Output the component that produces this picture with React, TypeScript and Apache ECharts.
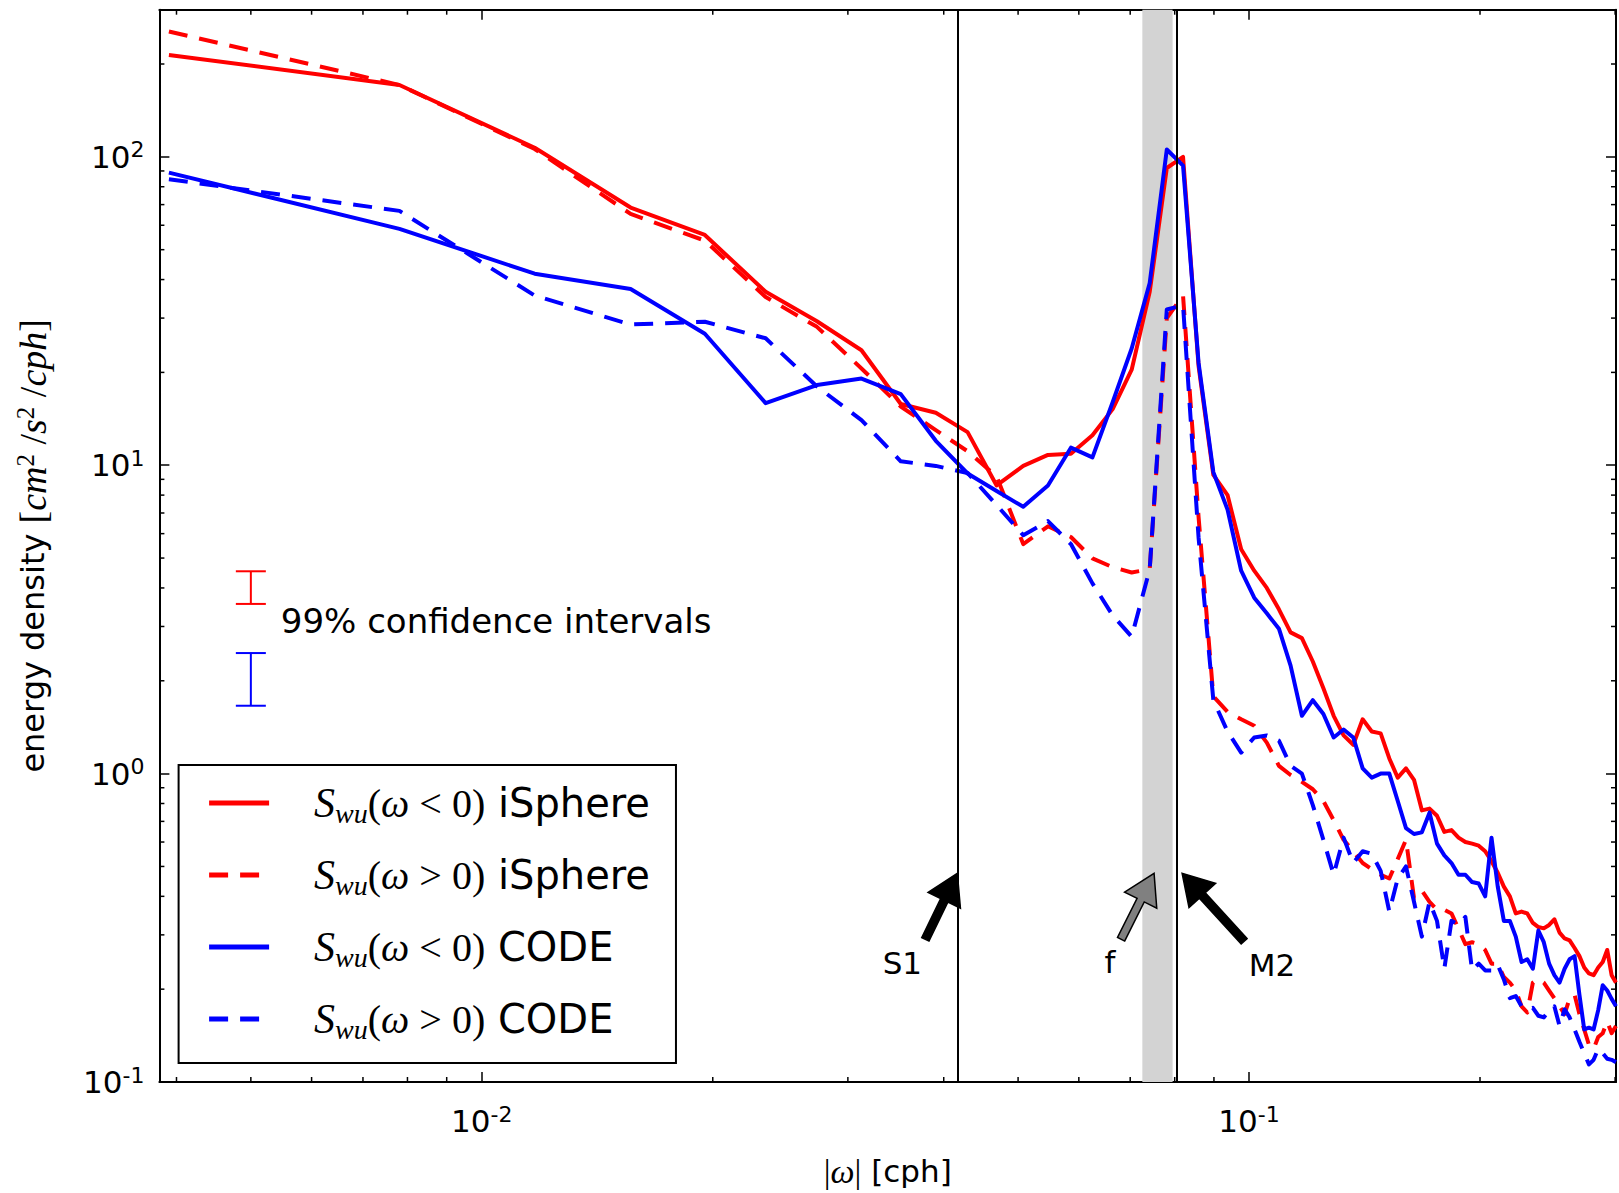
import React, { useEffect, useRef } from "react";
import * as echarts from "echarts";

// ---------------- data ----------------
const freq = [
  0.00391, 0.00781, 0.01172, 0.01563, 0.01953, 0.02344, 0.02734, 0.03125, 0.03516, 0.03906,
  0.04297, 0.04688, 0.05078, 0.05469, 0.05859, 0.0625, 0.06641, 0.07031, 0.07422, 0.07813,
  0.08203, 0.08594, 0.08984, 0.09375, 0.09766, 0.10156, 0.10547, 0.10938, 0.11328, 0.11719,
  0.12109, 0.125, 0.12891, 0.13281, 0.13672, 0.14063, 0.14453, 0.14844, 0.15234, 0.15625,
  0.16016, 0.16406, 0.16797, 0.17188, 0.17578, 0.17969, 0.18359, 0.1875, 0.19141, 0.19531,
  0.19922, 0.20313, 0.20703, 0.21094, 0.21484, 0.21875, 0.22266, 0.22656, 0.23047, 0.23438,
  0.23828, 0.24219, 0.24609, 0.25, 0.25391, 0.25781, 0.26172, 0.26563, 0.26953, 0.27344,
  0.27734, 0.28125, 0.28516, 0.28906, 0.29297, 0.29688, 0.30078,
];

const iSphereNeg = [
  214, 171, 107, 68.5, 55.8, 36.5, 29.3, 23.6, 15.8, 14.8,
  12.8, 8.6, 9.95, 10.8, 10.9, 12.5, 15.2, 20.4, 36.5, 92,
  100, 21, 9.3, 8.0, 5.34, 4.55, 4.0, 3.41, 2.87, 2.75,
  2.31, 1.89, 1.54, 1.33, 1.24, 1.5, 1.37, 1.35, 1.12, 0.97,
  1.04, 0.955, 0.76, 0.77, 0.73, 0.647, 0.656, 0.62, 0.6, 0.593,
  0.584, 0.56, 0.52, 0.477, 0.43, 0.4, 0.352, 0.357, 0.352, 0.328,
  0.318, 0.315, 0.323, 0.337, 0.305, 0.292, 0.288, 0.272, 0.256, 0.235,
  0.225, 0.222, 0.235, 0.245, 0.268, 0.222, 0.21,
];

const iSpherePos = [
  255, 171, 106, 65.3, 53.5, 35.1, 28.1, 20.6, 15.5, 13.0,
  11.1, 9.2, 5.55, 6.34, 5.85, 4.99, 4.67, 4.49, 4.6, 30,
  35.5, 6.8, 1.78, 1.585, 1.5, 1.43, 1.26, 1.06, 0.99, 0.94,
  0.89, 0.815, 0.706, 0.61, 0.56, 0.513, 0.49, 0.47, 0.457, 0.528,
  0.61, 0.395, 0.418, 0.384, 0.362, 0.362, 0.352, 0.314, 0.28, 0.284,
  0.28, 0.268, 0.242, 0.242, 0.219, 0.21, 0.198, 0.176, 0.168, 0.21,
  0.216, 0.21, 0.198, 0.187, 0.176, 0.166, 0.187, 0.192, 0.166, 0.148,
  0.132, 0.128, 0.14, 0.144, 0.157, 0.144, 0.152,
];

const codeNeg = [
  88.9, 58.4, 41.8, 37.3, 26.7, 15.9, 18.2, 19.1, 17.0, 12.0,
  9.4, 8.25, 7.33, 8.6, 11.4, 10.6, 16.0, 23.9, 39, 105.6,
  93.7, 21.5, 9.5, 7.18, 4.55, 3.72, 3.31, 2.95, 2.24, 1.54,
  1.73, 1.56, 1.31, 1.39, 1.31, 1.04, 0.97, 1.0, 1.0, 0.815,
  0.666, 0.637, 0.645, 0.747, 0.593, 0.543, 0.513, 0.47, 0.47, 0.445,
  0.44, 0.4, 0.62, 0.43, 0.333, 0.333, 0.296, 0.245, 0.25, 0.233,
  0.31, 0.284, 0.242, 0.222, 0.21, 0.233, 0.25, 0.256, 0.192, 0.148,
  0.15, 0.148, 0.171, 0.206, 0.198, 0.186, 0.176,
];

const codePos = [
  84.6, 66.8, 35.5, 28.6, 29.2, 25.8, 18.0, 14.0, 10.3, 9.95,
  9.44, 7.43, 5.93, 6.59, 5.55, 4.14, 3.26, 2.78, 4.6, 32,
  33, 5.83, 1.73, 1.37, 1.17, 1.31, 1.33, 1.28, 1.06, 1.0,
  0.79, 0.61, 0.47, 0.62, 0.513, 0.56, 0.55, 0.484, 0.357, 0.457,
  0.5, 0.384, 0.296, 0.384, 0.333, 0.233, 0.333, 0.324, 0.343, 0.23,
  0.242, 0.23, 0.23, 0.24, 0.215, 0.187, 0.19, 0.176, 0.172, 0.174,
  0.164, 0.162, 0.17, 0.176, 0.152, 0.172, 0.162, 0.148, 0.135, 0.124,
  0.114, 0.118, 0.128, 0.124, 0.119, 0.118, 0.116,
];

const seriesNames = ["Swu(ω<0) iSphere", "Swu(ω>0) iSphere", "Swu(ω<0) CODE", "Swu(ω>0) CODE"];
const seriesValues = [iSphereNeg, iSpherePos, codeNeg, codePos];
const seriesColors = ["#ff0000", "#ff0000", "#0000ff", "#0000ff"];
const seriesDashed = [false, true, false, true];
const legendSign = ["<", ">", "<", ">"];
const legendModel = ["iSphere", "iSphere", "CODE", "CODE"];

const xRange = [0.0038, 0.3008];
const yRange = [0.1, 300];

const S1 = 0.041667;
const M2 = 0.0805;
const fBand = [0.0726, 0.0795];

// confidence intervals [x, low, high]
const ciX = 0.005;
const ciRed = [3.55, 4.53];
const ciBlue = [1.66, 2.46];
const ciText = "99% confidence intervals";
const ciTextPos = [0.00547, 3.134];

// arrows (tips in data coordinates)
const arrowLabels = ["S1", "f", "M2"];
const arrowTipX = [0.041667, 0.0752, 0.0818];
const arrowTipY = 0.475;

const xMinorTicks = [0.004, 0.005, 0.006, 0.007, 0.008, 0.009, 0.02, 0.03, 0.04, 0.05, 0.06, 0.07, 0.08, 0.09, 0.2, 0.3];
const yMinorTicks = [
  0.2, 0.3, 0.4, 0.5, 0.6, 0.7, 0.8, 0.9,
  2, 3, 4, 5, 6, 7, 8, 9,
  20, 30, 40, 50, 60, 70, 80, 90,
  200,
];

// ---------------- styling / layout (not data) ----------------
const SANS = "DejaVu Sans";
const SERIF = "Liberation Serif";
const arrowLayout = [
  { tail: [-32, 66], text: [-55, 90], fill: "#000000" },
  { tail: [-33, 66], text: [-44, 89], fill: "#808080" },
  { tail: [62, 68], text: [90, 92], fill: "#000000" },
];

const powLabel = (v: number) => {
  const e = Math.log10(v);
  const r = Math.round(e);
  if (Math.abs(e - r) > 1e-6) return "";
  return `{b|10}{e|${r}}`;
};
const tickRich = {
  b: { fontSize: 31, fontFamily: SANS, lineHeight: 36, color: "#000" },
  e: { fontSize: 22, fontFamily: SANS, lineHeight: 14, verticalAlign: "top", color: "#000" },
};

function arrowPolygon(tip: number[], tail: number[], w: number, hw: number, hl: number) {
  const dx = tip[0] - tail[0];
  const dy = tip[1] - tail[1];
  const L = Math.hypot(dx, dy);
  const ux = dx / L, uy = dy / L;
  const nx = -uy, ny = ux;
  const bx = tip[0] - ux * hl, by = tip[1] - uy * hl;
  return [
    [tail[0] + (nx * w) / 2, tail[1] + (ny * w) / 2],
    [bx + (nx * w) / 2, by + (ny * w) / 2],
    [bx + (nx * hw) / 2, by + (ny * hw) / 2],
    [tip[0], tip[1]],
    [bx - (nx * hw) / 2, by - (ny * hw) / 2],
    [bx - (nx * w) / 2, by - (ny * w) / 2],
    [tail[0] - (nx * w) / 2, tail[1] - (ny * w) / 2],
  ];
}

function buildOption() {
  const axisLineStyle = { color: "#000", width: 2 };
  const tickStyle = { color: "#000", width: 1.5 };

  const dataSeries = seriesNames.map((name, i) => ({
    name,
    type: "line",
    data: freq.map((f, j) => [f, seriesValues[i][j]]),
    showSymbol: false,
    symbol: "none",
    z: 3,
    lineStyle: {
      color: seriesColors[i],
      width: 4,
      type: seriesDashed[i] ? [19, 12] : "solid",
      join: "round",
    },
    itemStyle: { color: seriesColors[i] },
    silent: true,
  }));

  const minorData: number[][] = [];
  xMinorTicks.forEach((v) => minorData.push([v, 1, 0]));
  yMinorTicks.forEach((v) => minorData.push([0.01, v, 1]));

  const legendRich: any = {
    g: { width: 40 },
    s: { fontFamily: SERIF, fontStyle: "italic", fontSize: 42, lineHeight: 48, color: "#000" },
    sub: { fontFamily: SERIF, fontStyle: "italic", fontSize: 28, lineHeight: 22, verticalAlign: "bottom", color: "#000" },
    p: { fontFamily: SERIF, fontSize: 40, lineHeight: 48, color: "#000" },
    w: { fontFamily: SERIF, fontStyle: "italic", fontSize: 40, lineHeight: 48, color: "#000" },
    t: { fontFamily: SANS, fontSize: 40, lineHeight: 48, color: "#000" },
  };

  return {
    animation: false,
    backgroundColor: "#ffffff",
    grid: { left: 159.4, right: 2, top: 9.7, bottom: 107.5, containLabel: false },
    legend: {
      data: seriesNames,
      orient: "vertical",
      left: 178.6,
      top: 765,
      padding: [14, 26, 20, 28],
      itemGap: 24,
      itemWidth: 60,
      itemHeight: 20,
      borderColor: "#000",
      borderWidth: 2,
      backgroundColor: "#ffffff",
      selectedMode: false,
      lineStyle: { width: 5 },
      itemStyle: { opacity: 0, color: "rgba(0,0,0,0)", borderWidth: 0 },
      textStyle: { color: "#000", fontFamily: SANS, fontSize: 40, lineHeight: 48, rich: legendRich },
      formatter: (name: string) => {
        const i = seriesNames.indexOf(name);
        return `{g| }{s|S}{sub|wu}{p|(}{w|ω}{p| ${legendSign[i]} 0)}{t| ${legendModel[i]}}`;
      },
    },
    xAxis: [
      {
        type: "log",
        logBase: 10,
        min: xRange[0],
        max: xRange[1],
        position: "bottom",
        axisLine: { show: true, lineStyle: axisLineStyle },
        axisTick: { show: true, inside: true, length: 10, lineStyle: tickStyle },
        minorTick: { show: false },
        splitLine: { show: false },
        axisLabel: { margin: 21, formatter: powLabel, rich: tickRich, color: "#000" },
        name: "{m||}{w|ω}{m||}{t| [cph]}",
        nameLocation: "middle",
        nameGap: 70,
        nameTextStyle: {
          rich: {
            m: { fontFamily: SERIF, fontSize: 34, lineHeight: 38, color: "#000" },
            w: { fontFamily: SERIF, fontStyle: "italic", fontSize: 34, lineHeight: 38, color: "#000" },
            t: { fontFamily: SANS, fontSize: 31, lineHeight: 38, color: "#000" },
          },
        },
      },
      {
        type: "log",
        logBase: 10,
        min: xRange[0],
        max: xRange[1],
        position: "top",
        axisLine: { show: true, lineStyle: axisLineStyle },
        axisTick: { show: true, inside: true, length: 10, lineStyle: tickStyle },
        splitLine: { show: false },
        axisLabel: { show: false },
      },
    ],
    yAxis: [
      {
        type: "log",
        logBase: 10,
        min: yRange[0],
        max: yRange[1],
        position: "left",
        axisLine: { show: true, lineStyle: axisLineStyle },
        axisTick: { show: true, inside: true, length: 10, lineStyle: tickStyle },
        splitLine: { show: false },
        axisLabel: { margin: 15, formatter: powLabel, rich: tickRich, color: "#000" },
        name: "{t|energy density }{m|[}{i|cm}{e|2}{m| /}{i|s}{e|2}{m| /}{i|cph}{m|]}",
        nameLocation: "middle",
        nameRotate: 90,
        nameGap: 106,
        nameTextStyle: {
          rich: {
            t: { fontFamily: SANS, fontSize: 32, lineHeight: 40, color: "#000" },
            m: { fontFamily: SERIF, fontSize: 38, lineHeight: 40, color: "#000" },
            i: { fontFamily: SERIF, fontStyle: "italic", fontSize: 38, lineHeight: 40, color: "#000" },
            e: { fontFamily: SERIF, fontSize: 25, lineHeight: 14, verticalAlign: "top", color: "#000" },
          },
        },
      },
      {
        type: "log",
        logBase: 10,
        min: yRange[0],
        max: yRange[1],
        position: "right",
        axisLine: { show: true, lineStyle: axisLineStyle },
        axisTick: { show: true, inside: true, length: 10, lineStyle: tickStyle },
        splitLine: { show: false },
        axisLabel: { show: false },
      },
    ],
    series: [
      {
        name: "markers",
        type: "line",
        data: [[0.01, 1]],
        showSymbol: false,
        symbol: "none",
        lineStyle: { width: 0, opacity: 0 },
        z: 1,
        silent: true,
        markArea: {
          silent: true,
          itemStyle: { color: "#d3d3d3" },
          data: [[{ xAxis: fBand[0] }, { xAxis: fBand[1] }]],
        },
        markLine: {
          silent: true,
          precision: 6,
          symbol: ["none", "none"],
          label: { show: false },
          lineStyle: { color: "#000", width: 2, type: "solid" },
          data: [{ xAxis: S1 }, { xAxis: M2 }],
        },
      },
      ...dataSeries,
      {
        name: "minorTicks",
        type: "custom",
        coordinateSystem: "cartesian2d",
        silent: true,
        clip: false,
        z: 4,
        data: minorData,
        renderItem: (params: any, api: any) => {
          const cs = params.coordSys;
          const kind = api.value(2);
          const st = { stroke: "#000", lineWidth: 1.5 };
          if (kind === 0) {
            const px = api.coord([api.value(0), 1])[0];
            return {
              type: "group",
              children: [
                { type: "line", shape: { x1: px, y1: cs.y + cs.height, x2: px, y2: cs.y + cs.height - 5 }, style: st },
                { type: "line", shape: { x1: px, y1: cs.y, x2: px, y2: cs.y + 5 }, style: st },
              ],
            };
          }
          const py = api.coord([0.01, api.value(1)])[1];
          return {
            type: "group",
            children: [
              { type: "line", shape: { x1: cs.x, y1: py, x2: cs.x + 5, y2: py }, style: st },
              { type: "line", shape: { x1: cs.x + cs.width, y1: py, x2: cs.x + cs.width - 5, y2: py }, style: st },
            ],
          };
        },
      },
      {
        name: "confidence",
        type: "custom",
        coordinateSystem: "cartesian2d",
        silent: true,
        clip: false,
        z: 5,
        data: [
          [ciX, ciRed[0], ciRed[1], 0],
          [ciX, ciBlue[0], ciBlue[1], 1],
        ],
        renderItem: (params: any, api: any) => {
          const color = api.value(3) === 0 ? "#ff0000" : "#0000ff";
          const lo = api.coord([api.value(0), api.value(1)]);
          const hi = api.coord([api.value(0), api.value(2)]);
          const st = { stroke: color, lineWidth: 2 };
          const hw = 15;
          return {
            type: "group",
            children: [
              { type: "line", shape: { x1: lo[0], y1: lo[1], x2: hi[0], y2: hi[1] }, style: st },
              { type: "line", shape: { x1: lo[0] - hw, y1: lo[1], x2: lo[0] + hw, y2: lo[1] }, style: st },
              { type: "line", shape: { x1: hi[0] - hw, y1: hi[1], x2: hi[0] + hw, y2: hi[1] }, style: st },
            ],
          };
        },
      },
      {
        name: "ciText",
        type: "custom",
        coordinateSystem: "cartesian2d",
        silent: true,
        clip: false,
        z: 5,
        data: [ciTextPos],
        renderItem: (params: any, api: any) => {
          const p = api.coord([api.value(0), api.value(1)]);
          return {
            type: "text",
            x: p[0],
            y: p[1],
            style: {
              text: ciText,
              fill: "#000",
              fontSize: 34,
              fontFamily: SANS,
              align: "left",
              verticalAlign: "middle",
              textAlign: "left",
              textVerticalAlign: "middle",
            },
          };
        },
      },
      {
        name: "arrows",
        type: "custom",
        coordinateSystem: "cartesian2d",
        silent: true,
        clip: false,
        z: 6,
        data: arrowTipX.map((x) => [x, arrowTipY]),
        renderItem: (params: any, api: any) => {
          const i = params.dataIndex;
          const lay = arrowLayout[i];
          const tip = api.coord([api.value(0), api.value(1)]);
          const tail = [tip[0] + lay.tail[0], tip[1] + lay.tail[1]];
          const pts = arrowPolygon(tip, tail, 8, 36, 30);
          return {
            type: "group",
            children: [
              {
                type: "polygon",
                shape: { points: pts },
                style: { fill: lay.fill, stroke: "#000", lineWidth: 1.5 },
              },
              {
                type: "text",
                x: tip[0] + lay.text[0],
                y: tip[1] + lay.text[1],
                style: {
                  text: arrowLabels[i],
                  fill: "#000",
                  fontSize: 31,
                  fontFamily: SANS,
                  align: "center",
                  verticalAlign: "middle",
                  textAlign: "center",
                  textVerticalAlign: "middle",
                },
              },
            ],
          };
        },
      },
    ],
  };
}

export default function App() {
  const ref = useRef<HTMLDivElement>(null);
  useEffect(() => {
    if (!ref.current) return;
    const chart = echarts.init(ref.current, null, { renderer: "svg" });
    chart.setOption(buildOption() as any);
    return () => chart.dispose();
  }, []);
  return (
    <div
      ref={ref}
      style={{ position: "absolute", left: 0, top: 0, width: 1619, height: 1193, background: "#ffffff" }}
    />
  );
}
